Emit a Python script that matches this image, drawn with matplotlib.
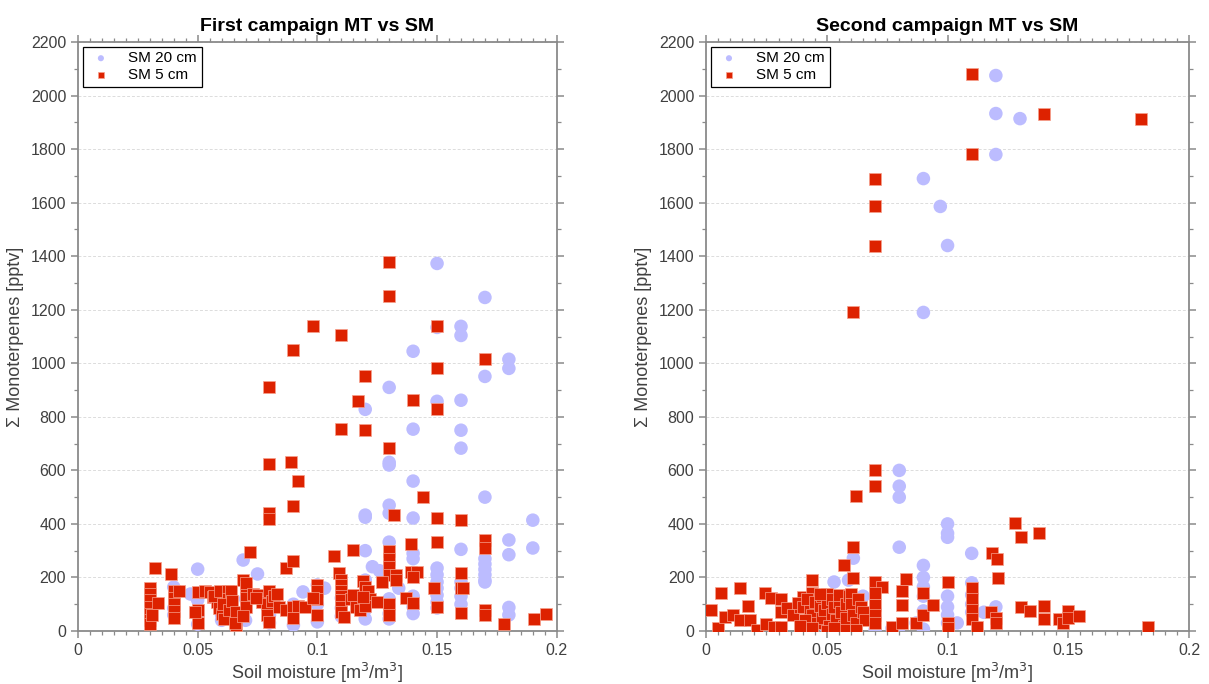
import matplotlib
matplotlib.use("Agg")
import matplotlib.pyplot as plt
from matplotlib.ticker import MultipleLocator, FormatStrFormatter

plt.rcParams['font.family'] = ['Liberation Sans', 'DejaVu Sans']

# ---- first campaign ----
first_sm20_x = [0.04, 0.04, 0.04, 0.047, 0.05, 0.05, 0.05, 0.05, 0.06, 0.06, 0.06, 0.06,
                0.069, 0.07, 0.07, 0.07, 0.075, 0.08, 0.08, 0.08, 0.09, 0.09, 0.094,
                0.1, 0.1, 0.1, 0.103, 0.11, 0.11, 0.11,
                0.12, 0.12, 0.12, 0.12, 0.12, 0.12, 0.12, 0.123, 0.126,
                0.13, 0.13, 0.13, 0.13, 0.13, 0.13, 0.13, 0.13, 0.13, 0.13, 0.134,
                0.14, 0.14, 0.14, 0.14, 0.14, 0.14, 0.14, 0.14, 0.14,
                0.15, 0.15, 0.15, 0.15, 0.15, 0.15, 0.15, 0.15, 0.15, 0.15,
                0.16, 0.16, 0.16, 0.16, 0.16, 0.16, 0.16, 0.16, 0.16, 0.16,
                0.17, 0.17, 0.17, 0.17, 0.17, 0.17, 0.17, 0.17, 0.17,
                0.18, 0.18, 0.18, 0.18, 0.18, 0.18, 0.19, 0.19]
first_sm20_y = [164, 85, 60, 138, 231, 116, 60, 25, 130, 100, 60, 40,
                265, 120, 80, 40, 213, 123, 60, 30, 100, 22, 146,
                172, 100, 34, 160, 123, 86, 55,
                828, 433, 425, 300, 190, 80, 45, 240, 225,
                910, 630, 620, 470, 440, 332, 120, 95, 65, 45, 160,
                1045, 754, 560, 422, 290, 270, 130, 90, 65,
                1373, 1134, 858, 235, 210, 183, 160, 134, 108, 86,
                1138, 1104, 862, 750, 683, 305, 183, 160, 130, 100,
                1246, 951, 500, 270, 250, 230, 210, 190, 183,
                1015, 981, 340, 285, 88, 60, 414, 310]

first_sm5_x = [0.13, 0.13, 0.098, 0.15, 0.11, 0.09, 0.17, 0.15, 0.12, 0.08, 0.117, 0.14,
               0.15, 0.11, 0.12, 0.13, 0.08, 0.089, 0.092, 0.144, 0.09, 0.08, 0.08,
               0.132, 0.15, 0.16,
               0.032, 0.039, 0.072, 0.087, 0.09, 0.107, 0.115, 0.13, 0.13, 0.13, 0.13,
               0.133, 0.133, 0.127, 0.139, 0.15, 0.17, 0.17, 0.139, 0.1415, 0.14,
               0.109, 0.11, 0.16,
               0.03, 0.03, 0.03, 0.03, 0.03, 0.03, 0.03, 0.0335, 0.031,
               0.04, 0.04, 0.04, 0.04, 0.04, 0.042,
               0.05, 0.05, 0.05, 0.049,
               0.053, 0.055, 0.0565, 0.058, 0.059, 0.06, 0.061, 0.057, 0.0595, 0.0625,
               0.0625, 0.0605, 0.063,
               0.064, 0.0645, 0.066, 0.066, 0.0655,
               0.069, 0.07, 0.07, 0.07, 0.069, 0.07,
               0.073, 0.075, 0.077, 0.079, 0.0745,
               0.08, 0.081, 0.082, 0.083, 0.079, 0.08,
               0.084, 0.087, 0.09, 0.09, 0.092, 0.095,
               0.1, 0.1, 0.1, 0.1, 0.098,
               0.11, 0.11, 0.11, 0.11, 0.11, 0.11, 0.111,
               0.114, 0.116, 0.118, 0.115,
               0.119, 0.12, 0.121, 0.122, 0.125, 0.12, 0.119,
               0.13, 0.13, 0.137, 0.14,
               0.1486, 0.15, 0.16, 0.161, 0.16, 0.17, 0.17,
               0.178, 0.1905, 0.1955]
first_sm5_y = [1378, 1250, 1140, 1138, 1106, 1048, 1015, 982, 952, 910, 858, 862,
               828, 754, 750, 683, 623, 630, 560, 500, 466, 440, 420,
               433, 422, 414,
               235, 213, 295, 235, 261, 282, 304, 300, 270, 240, 210,
               210, 190, 183, 325, 334, 340, 310, 220, 220, 200,
               215, 190, 215,
               160, 140, 115, 90, 65, 40, 25, 104, 60,
               150, 125, 100, 75, 50, 150,
               146, 78, 30, 71,
               150, 146, 128, 108, 86, 65, 45, 130, 150, 150,
               120, 100, 80,
               150, 112, 70, 22, 30,
               190, 165, 125, 90, 55, 180,
               140, 135, 110, 100, 125,
               150, 112, 130, 140, 60, 35,
               90, 80, 90, 48, 95, 90,
               172, 150, 60, 120, 125,
               170, 150, 130, 115, 90, 70, 52,
               120, 88, 80, 135,
               185, 165, 150, 120, 110, 95, 128,
               100, 60, 123, 104,
               160, 90, 160, 160, 67, 80, 60,
               26, 45, 63]

# ---- second campaign ----
second_sm20_x = [0.12, 0.12, 0.13, 0.12, 0.09, 0.097, 0.1, 0.09,
                 0.08, 0.08, 0.08, 0.08, 0.061, 0.059, 0.053, 0.05, 0.045, 0.055, 0.06,
                 0.065, 0.07, 0.07, 0.07, 0.077, 0.08, 0.087,
                 0.09, 0.09, 0.09, 0.09, 0.09, 0.09,
                 0.1, 0.1, 0.1, 0.1, 0.1, 0.1, 0.1, 0.104,
                 0.11, 0.11, 0.11, 0.11, 0.11, 0.115, 0.12]
second_sm20_y = [2075, 1933, 1914, 1780, 1690, 1586, 1440, 1190,
                 600, 541, 500, 313, 272, 190, 183, 4, 100, 60, 10,
                 130, 80, 50, 5, 10, 15, 30,
                 245, 200, 165, 130, 75, 7,
                 400, 365, 350, 130, 90, 60, 30, 30,
                 290, 180, 135, 100, 70, 70, 90]

second_sm5_x = [0.11, 0.14, 0.18, 0.11, 0.07, 0.07, 0.07, 0.061,
                0.07, 0.07, 0.062, 0.061, 0.057, 0.061, 0.07, 0.073, 0.083, 0.044,
                0.1, 0.11, 0.11, 0.11, 0.11, 0.112, 0.1185, 0.1205, 0.121,
                0.118, 0.12, 0.12, 0.128, 0.1305, 0.138, 0.1305, 0.134,
                0.14, 0.14, 0.146, 0.148, 0.15, 0.15, 0.1545, 0.183, 0.1, 0.1,
                0.002, 0.006, 0.005, 0.008, 0.011, 0.014, 0.014, 0.0175, 0.018, 0.021,
                0.0245, 0.027, 0.031, 0.025, 0.028, 0.031, 0.031, 0.0335, 0.036,
                0.039, 0.04, 0.044,
                0.038, 0.040, 0.042, 0.043, 0.044, 0.045, 0.046, 0.047, 0.048, 0.048,
                0.049, 0.05, 0.05, 0.051, 0.052, 0.052, 0.053, 0.054, 0.055, 0.055,
                0.056, 0.057, 0.058, 0.058, 0.059, 0.041, 0.044, 0.047, 0.05, 0.053,
                0.039, 0.06, 0.06, 0.061, 0.062, 0.063, 0.064, 0.065, 0.066, 0.062,
                0.07, 0.07, 0.07, 0.07, 0.077, 0.081, 0.081, 0.081, 0.087,
                0.09, 0.09, 0.094]
second_sm5_y = [2080, 1933, 1914, 1780, 1690, 1586, 1440, 1190,
                600, 543, 503, 313, 246, 198, 183, 164, 194, 190,
                183, 160, 118, 80, 45, 15, 290, 270, 198,
                70, 50, 30, 403, 350, 365, 90, 75,
                95, 45, 45, 30, 75, 50, 55, 15, 30, 10,
                78, 142, 11, 52, 60, 41, 160, 93, 41, 4,
                142, 123, 119, 26, 15, 15, 71, 86, 60,
                90, 127, 142,
                105, 90, 120, 75, 60, 110, 30, 95, 130, 50,
                80, 140, 105, 20, 65, 120, 90, 40, 110, 135,
                70, 20, 100, 50, 130, 40, 10, 140, 0, 10,
                20, 140, 100, 60, 30, 120, 90, 70, 40, 5,
                142, 97, 60, 30, 15, 30, 150, 97, 30,
                142, 60, 97]

blue = '#bcbcff'
red = '#dd2200'
spine_col = '#8a8a8a'
text_col = '#404040'

fig = plt.figure(figsize=(12.09, 6.84), dpi=100)
ax1 = fig.add_axes([0.0645, 0.0775, 0.396, 0.861])
ax2 = fig.add_axes([0.584, 0.0775, 0.3995, 0.861])

panels = [
    (ax1, 'First campaign MT vs SM', first_sm20_x, first_sm20_y, first_sm5_x, first_sm5_y),
    (ax2, 'Second campaign MT vs SM', second_sm20_x, second_sm20_y, second_sm5_x, second_sm5_y),
]

for ax, title, bx, by, rx, ry in panels:
    ax.scatter(bx, by, s=95, marker='o', color=blue, edgecolors='none', label='SM 20 cm', zorder=3)
    ax.scatter(rx, ry, s=70, marker='s', color=red, edgecolors='#f7a08c', linewidths=0.5,
               label='SM 5 cm', zorder=4)

    ax.set_xlim(0, 0.2)
    ax.set_ylim(0, 2200)
    ax.xaxis.set_major_locator(MultipleLocator(0.05))
    ax.xaxis.set_minor_locator(MultipleLocator(0.005))
    ax.xaxis.set_major_formatter(FormatStrFormatter('%g'))
    ax.yaxis.set_major_locator(MultipleLocator(200))
    ax.yaxis.set_minor_locator(MultipleLocator(100))

    ax.grid(axis='y', which='major', color='#dcdcdc', linestyle=(0, (3, 2)), linewidth=0.7, zorder=0)
    ax.set_axisbelow(True)

    for sp in ax.spines.values():
        sp.set_color(spine_col)
        sp.set_linewidth(1.3)
    ax.tick_params(which='both', direction='out', top=True, right=True,
                   color=spine_col, labelcolor=text_col, labelsize=11.5)
    ax.tick_params(which='major', length=5, width=1.1)
    ax.tick_params(which='minor', length=3, width=0.9)

    ax.set_title(title, fontsize=14, fontweight='bold', pad=8)
    ax.set_xlabel('Soil moisture [m$^3$/m$^3$]', fontsize=13, color=text_col, labelpad=2)
    ax.set_ylabel('Σ Monoterpenes [pptv]', fontsize=13, color=text_col, labelpad=5)

    leg = ax.legend(loc='upper left', fontsize=11, markerscale=0.45, fancybox=False,
                    framealpha=1, edgecolor='black', borderpad=0.3, handletextpad=0.9,
                    labelspacing=0.2, borderaxespad=0.3, handlelength=1.8)
    leg.get_frame().set_linewidth(0.9)

fig.savefig('out.png', dpi=100)
